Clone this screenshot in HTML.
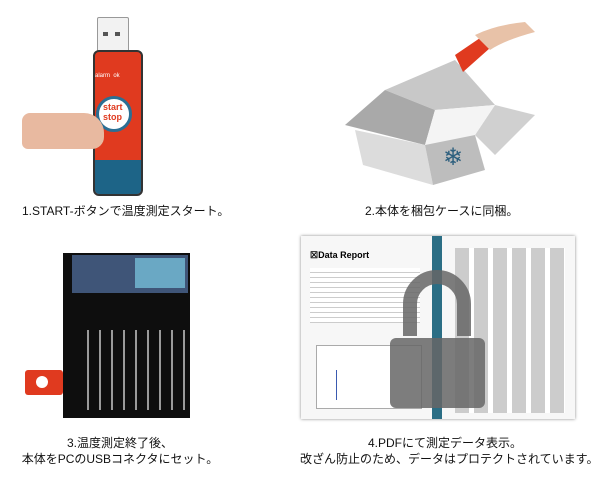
<!DOCTYPE html>
<html><head><meta charset="utf-8"><style>
body{margin:0;width:600px;height:477px;background:#fff;position:relative;overflow:hidden;font-family:"Liberation Sans","Noto Sans CJK JP",sans-serif;}
.a{position:absolute}
.cap{position:absolute;font-size:12px;color:#111;text-align:center;line-height:16px;white-space:nowrap}
</style></head><body>
<!-- device 1 -->
<div class="a" style="left:97px;top:17px;width:30px;height:33px;background:#f2f2f2;border:1px solid #999;border-radius:2px"></div>
<div class="a" style="left:103px;top:32px;width:5px;height:4px;background:#555"></div>
<div class="a" style="left:115px;top:32px;width:5px;height:4px;background:#555"></div>
<div class="a" style="left:93px;top:50px;width:46px;height:142px;background:#e03a1f;border:2px solid #333;border-radius:6px;overflow:hidden">
 <div class="a" style="left:0;top:108px;width:46px;height:34px;background:#1d6487"></div>
</div>
<div class="a" style="left:95px;top:73px;font-size:6px;color:#fff">alarm &nbsp;ok</div>
<div class="a" style="left:96px;top:96px;width:30px;height:30px;border-radius:50%;background:#fff;border:3px solid #2b6f94"></div>
<div class="a" style="left:103px;top:102px;font-size:9px;color:#e03a1f;font-weight:bold;line-height:10px">start<br>stop</div>
<div class="a" style="left:22px;top:113px;width:82px;height:36px;background:#e8b9a0;border-radius:8px 20px 12px 6px"></div>
<div class="cap" style="left:22px;top:203px">1.START-ボタンで温度測定スタート。</div>
<!-- box -->
<svg class="a" style="left:325px;top:20px" width="215" height="170">
<polygon points="60,70 130,40 170,85 110,90" fill="#c8c8c8"/>
<polygon points="60,70 20,105 100,125 110,90" fill="#a9a9a9"/>
<polygon points="170,85 210,95 170,135 150,115" fill="#d0d0d0"/>
<polygon points="110,90 170,85 150,115 100,125" fill="#f4f4f4"/>
<polygon points="30,110 100,125 108,165 38,145" fill="#dcdcdc"/>
<polygon points="100,125 150,115 160,150 108,165" fill="#bdbdbd"/>
<text x="118" y="145" font-size="24" fill="#2d5f7e">❄</text>
<polygon points="130,35 155,18 165,28 138,52" fill="#e03a1f"/>
<path d="M150,15 Q170,5 200,2 L210,12 Q180,20 165,30Z" fill="#e8c2a8"/>
</svg>
<div class="cap" style="left:365px;top:203px">2.本体を梱包ケースに同梱。</div>
<!-- laptop -->
<div class="a" style="left:63px;top:253px;width:127px;height:165px;background:#0e0e0e"></div>
<div class="a" style="left:72px;top:255px;width:116px;height:38px;background:#3f5578"></div>
<div class="a" style="left:135px;top:258px;width:50px;height:30px;background:#6aa8c4"></div>
<div class="a" style="left:80px;top:330px;width:108px;height:80px;background:repeating-linear-gradient(90deg,#0e0e0e 0 7px,#9a9a9a 7px 9px,#0e0e0e 9px 12px)"></div>
<div class="a" style="left:25px;top:370px;width:38px;height:25px;background:#e03a1f;border-radius:3px"></div>
<div class="a" style="left:36px;top:376px;width:12px;height:12px;border-radius:50%;background:#fff"></div>
<div class="cap" style="left:15px;top:435px;width:210px">3.温度測定終了後、<br>本体をPCのUSBコネクタにセット。</div>
<!-- pdf -->
<div class="a" style="left:301px;top:236px;width:274px;height:183px;background:#f7f7f7;box-shadow:0 0 3px #888"></div>
<div class="a" style="left:432px;top:236px;width:10px;height:183px;background:#2b6e85"></div>
<div class="a" style="left:310px;top:250px;font-size:9px;font-weight:bold">☒Data Report</div>
<div class="a" style="left:310px;top:268px;width:110px;height:55px;background:repeating-linear-gradient(180deg,#fff 0 4px,#ccc 4px 5px)"></div>
<div class="a" style="left:316px;top:345px;width:104px;height:62px;border:1px solid #aaa;background:#fff"></div>
<div class="a" style="left:336px;top:370px;width:1px;height:30px;background:#3a5ab0"></div>
<div class="a" style="left:455px;top:248px;width:110px;height:165px;background:repeating-linear-gradient(90deg,#ccc 0 14px,#fff 14px 19px)"></div>
<svg class="a" style="left:390px;top:268px" width="100" height="145">
<path d="M20,68 V36 A27,27 0 0 1 74,36 V68" fill="none" stroke="#666" stroke-width="14" opacity="0.85"/>
<rect x="0" y="70" width="95" height="70" rx="6" fill="#666" opacity="0.85"/>
</svg>
<div class="cap" style="left:300px;top:435px;width:290px">4.PDFにて測定データ表示。<br>改ざん防止のため、データはプロテクトされています。</div>
</body></html>
